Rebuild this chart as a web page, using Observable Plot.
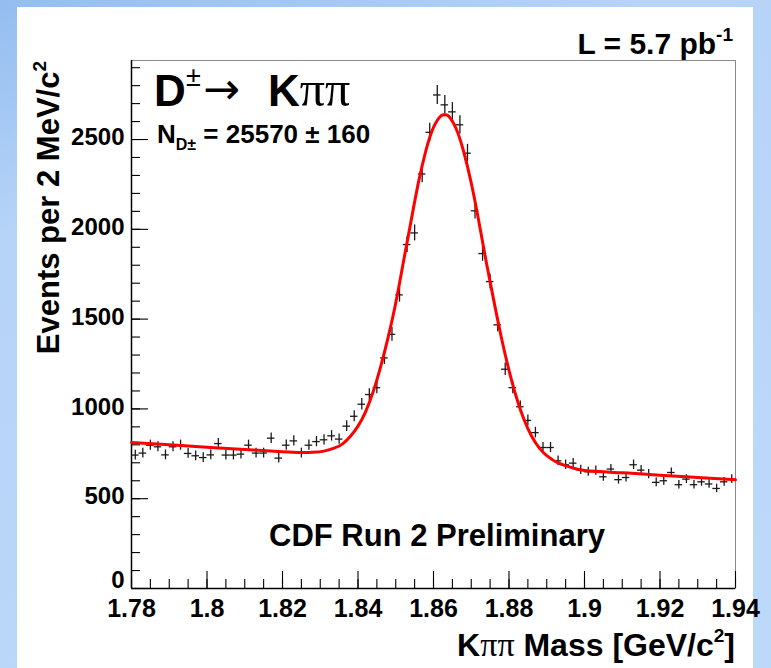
<!DOCTYPE html>
<html><head><meta charset="utf-8">
<script src="https://cdn.jsdelivr.net/npm/d3@7"></script>
<script src="https://cdn.jsdelivr.net/npm/@observablehq/plot@0.6"></script>
<style>
html,body{margin:0;padding:0;}
body{width:771px;height:668px;overflow:hidden;position:relative;background:linear-gradient(160deg,#94bdf0 0%,#b6d4f8 25%,#bdd9fa 100%);}
#panel{position:absolute;left:17px;top:7px;width:736px;height:661px;background:#fff;}
#chart{position:absolute;left:0;top:0;}
#notes{position:absolute;left:0;top:0;}
</style></head><body>
<div id="panel"></div>
<div id="chart"></div>
<svg id="notes" width="771" height="668"></svg>
<script>
// Histogram: Kππ invariant mass, 2 MeV bins from 1.78 to 1.94 GeV
const binLow = 1.78;
const binWidth = 0.002;
const counts = [
  743,754,798,789,744,789,798,752,739,729,
  744,807,743,743,748,798,754,754,837,726,
  798,822,754,798,818,828,850,832,904,959,
  1026,1080,1118,1284,1415,1635,1915,1980,2308,2540,
  2748,2693,2654,2582,2424,2103,1865,1709,1468,1221,
  1118,1012,936,868,785,785,711,689,698,661,
  650,656,622,665,606,618,689,659,637,591,
  600,646,578,609,578,594,582,557,594,609
];
// Fit curve (red)
const fitMass = [1.780,1.790,1.800,1.810,1.820,1.825,1.828,1.831,1.834,1.836,1.838,1.840,1.842,1.844,1.846,1.848,1.850,1.852,1.854,1.856,1.858,1.860,1.862,1.863,1.864,1.866,1.868,1.870,1.872,1.874,1.876,1.878,1.880,1.882,1.884,1.886,1.888,1.890,1.893,1.896,1.900,1.910,1.920,1.930,1.940];
const fitValue = [813,800,787,774,761,757,758,765,784,807,848,904,984,1095,1236,1400,1590,1815,2040,2260,2440,2568,2632,2637,2630,2560,2432,2258,2045,1815,1600,1395,1215,1062,940,848,783,740,699,677,657,644,631,618,605];
// Axis ticks
const xTicks = [1.78,1.80,1.82,1.84,1.86,1.88,1.90,1.92,1.94];
const xTickLabels = ["1.78","1.8","1.82","1.84","1.86","1.88","1.9","1.92","1.94"];
const yTicks = [0,500,1000,1500,2000,2500];
const yTickLabels = ["0","500","1000","1500","2000","2500"];
const xMinorStep = 0.005, yMinorStep = 100;
const xMin = 1.78, xMax = 1.94, yMax = 2940;

// layout
const W = 771, H = 668, mL = 131, mR = 36, mT = 60, mB = 80;
const xPerPx = (xMax - xMin) / (W - mL - mR);
const yPerPx = yMax / (H - mT - mB);
const majorLen = 17, minorLen = 9;

const bins = counts.map((n, i) => ({
  m: binLow + binWidth * (i + 0.5),
  lo: binLow + binWidth * i,
  hi: binLow + binWidth * (i + 1),
  n, e: Math.sqrt(n)
}));
const fit = fitMass.map((m, i) => ({m, v: fitValue[i]}));
const xMinor = d3.range(0, 33).map(i => +(xMin + i * xMinorStep).toFixed(4));
const yMinor = d3.range(0, 30).map(i => i * yMinorStep);
const xLab = new Map(xTicks.map((t, i) => [t, xTickLabels[i]]));
const yLab = new Map(yTicks.map((t, i) => [t, yTickLabels[i]]));

const chart = Plot.plot({
  width: W, height: H,
  marginLeft: mL, marginRight: mR, marginTop: mT, marginBottom: mB,
  style: {background: "transparent", fontFamily: "'Liberation Sans', Arial, sans-serif", overflow: "visible"},
  x: {domain: [xMin, xMax], label: null},
  y: {domain: [0, yMax], label: null},
  marks: [
    Plot.frame({stroke: "#8a8a8a", strokeWidth: 1}),
    // inward ticks
    Plot.ruleX(xMinor, {x: d => d, y1: 0, y2: minorLen * yPerPx, stroke: "#000", strokeWidth: 1.1}),
    Plot.ruleX(xTicks, {x: d => d, y1: 0, y2: majorLen * yPerPx, stroke: "#000", strokeWidth: 1.1}),
    Plot.ruleY(yMinor, {y: d => d, x1: xMin, x2: xMin + minorLen * xPerPx, stroke: "#000", strokeWidth: 1.1}),
    Plot.ruleY(yTicks, {y: d => d, x1: xMin, x2: xMin + majorLen * xPerPx, stroke: "#000", strokeWidth: 1.1}),
    Plot.axisX(xTicks, {tickSize: 0, tickPadding: 11, tickFormat: d => xLab.get(d), fontSize: 25, fontWeight: "bold", fill: "#000"}),
    Plot.axisY(yTicks.filter(t => t > 0), {tickSize: 0, tickPadding: 7, dy: -2, tickFormat: d => yLab.get(d), fontSize: 24, fontWeight: "bold", fill: "#000"}),
    Plot.axisY(yTicks.filter(t => t === 0), {tickSize: 0, tickPadding: 7, dy: -8, tickFormat: d => yLab.get(d), fontSize: 24, fontWeight: "bold", fill: "#000"}),
    Plot.ruleY([0], {stroke: "#000", strokeWidth: 1.5}),
    Plot.ruleX([xMin], {stroke: "#000", strokeWidth: 1.5}),
    Plot.ruleX(bins, {x: "m", y1: d => d.n - d.e, y2: d => d.n + d.e, stroke: "#1a1a1a", strokeWidth: 1.3}),
    Plot.ruleY(bins, {y: "n", x1: "lo", x2: "hi", stroke: "#1a1a1a", strokeWidth: 1.3}),
    Plot.line(fit, {x: "m", y: "v", stroke: "#ff0000", strokeWidth: 3, curve: "natural"})
  ]
});
document.getElementById("chart").appendChild(chart);

// Annotations
const svg = d3.select("#notes");
const SANS = "'Liberation Sans', Arial, sans-serif";
const SERIF = "'Liberation Serif', 'DejaVu Serif', serif";
function txt(x, y, anchor) {
  return svg.append("text").attr("x", x).attr("y", y).attr("text-anchor", anchor || "start")
    .attr("font-family", SANS).attr("font-weight", "bold").attr("fill", "#000");
}
// L = 5.7 pb^-1
{
  const t = txt(733, 54, "end").attr("font-size", 30);
  t.append("tspan").text("L = 5.7 pb");
  t.append("tspan").attr("dy", -13).attr("font-size", 19).text("-1");
}
// D± → Kππ
{
  const t = txt(154, 106).attr("font-size", 44);
  t.append("tspan").text("D");
  t.append("tspan").attr("x", 186).attr("y", 86).attr("font-size", 27).attr("font-weight", "normal").text("±");
  t.append("tspan").attr("x", 203).attr("y", 104).attr("font-family", "'DejaVu Sans', sans-serif").attr("font-size", 44).attr("font-weight", "normal").text("→");
  t.append("tspan").attr("x", 268).attr("y", 106).text("K");
  t.append("tspan").attr("font-family", SERIF).attr("font-weight", "normal").attr("font-size", 50).text("ππ");
}
// N_D± = 25570 ± 160
{
  const t = txt(157, 143).attr("font-size", 26);
  t.append("tspan").text("N");
  t.append("tspan").attr("dy", 7).attr("font-size", 16).text("D±");
  t.append("tspan").attr("dy", -7).attr("font-size", 26).text(" = 25570 ± 160");
}
// CDF Run 2 Preliminary
txt(437, 546, "middle").attr("font-size", 31).text("CDF Run 2 Preliminary");
// x title
{
  const t = txt(735, 656, "end").attr("font-size", 32);
  t.append("tspan").text("K");
  t.append("tspan").attr("font-family", SERIF).attr("font-weight", "normal").attr("font-size", 34).text("ππ");
  t.append("tspan").text(" Mass [GeV/c");
  t.append("tspan").attr("dy", -14).attr("font-size", 19).text("2");
  t.append("tspan").attr("dy", 14).text("]");
}
// y title
{
  const t = svg.append("text").attr("transform", "translate(59,61) rotate(-90)")
    .attr("text-anchor", "end").attr("font-family", SANS).attr("font-weight", "bold")
    .attr("font-size", 31).attr("fill", "#000");
  t.append("tspan").text("Events per 2 MeV/c");
  t.append("tspan").attr("dy", -13).attr("font-size", 19).text("2");
}
</script>
</body></html>
